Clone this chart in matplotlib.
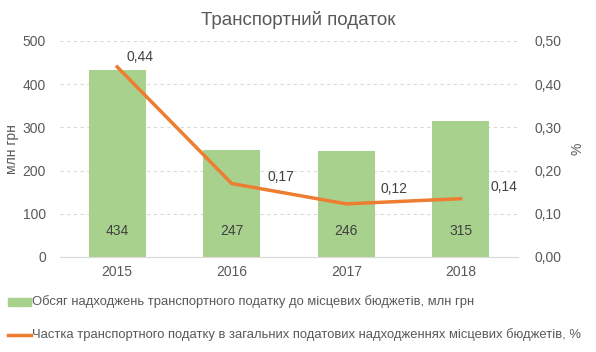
import matplotlib
matplotlib.use("Agg")
import matplotlib.pyplot as plt
import numpy as np

years = ["2015", "2016", "2017", "2018"]
volume = [434, 247, 246, 315]          # млн грн
share = [0.44, 0.17, 0.123, 0.135]     # %
share_labels = ["0,44", "0,17", "0,12", "0,14"]

TXT = "#595959"
plt.rcParams["font.family"] = ["Liberation Sans", "DejaVu Sans"]

fig = plt.figure(figsize=(5.96, 3.52), dpi=100)
ax = fig.add_axes([60/596, 1-257/352, 458/596, 216/352])
ax2 = ax.twinx()

x = np.arange(len(years))
ax.bar(x, volume, width=0.5, color="#A9D18E", zorder=2)
for xi, v in zip(x, volume):
    ax.text(xi, 60, str(v), ha="center", va="center", fontsize=10, color="#404040", zorder=3)

ax.set_xlim(-0.5, 3.5)
ax.set_ylim(0, 500)
ax.set_yticks(range(0, 501, 100))
ax.yaxis.grid(True, ls=(0, (3, 3)), color="#d9d9d9", lw=0.8)
ax.set_axisbelow(True)
ax.set_xticks(x)
ax.set_xticklabels(years)
ax.set_ylabel("млн грн", color=TXT, fontsize=10, labelpad=3)

ax2.plot(x, share, color="#ED7D31", lw=2.5, zorder=4)
ax2.set_ylim(0, 0.5)
ax2.set_yticks(np.arange(0, 0.51, 0.1))
ax2.set_yticklabels([f"{t:.2f}".replace(".", ",") for t in np.arange(0, 0.51, 0.1)])
ax2.set_ylabel("%", color=TXT, fontsize=10, labelpad=6)
offs = [(0.2, 0.023), (0.43, 0.015), (0.42, 0.034), (0.38, 0.027)]
for xi, v, lab, (dx, dy) in zip(x, share, share_labels, offs):
    ax2.text(xi + dx, v + dy, lab, ha="center", va="center", fontsize=10, color="#404040", zorder=5)

for a in (ax, ax2):
    for s in a.spines.values():
        s.set_visible(False)
    a.tick_params(length=0, colors=TXT, labelsize=10)
ax.spines["bottom"].set_visible(True)
ax.spines["bottom"].set_color("#d9d9d9")
ax.tick_params(axis="y", pad=10)
ax.tick_params(axis="x", pad=6)
ax2.tick_params(axis="y", pad=12)

fig.text(0.5, 1-20/352, "Транспортний податок", ha="center", va="center", fontsize=13.5, color=TXT)

# legend rows
fig.patches.append(plt.Rectangle((8/596, 1-306/352), 23/596, 8/352, transform=fig.transFigure,
                                 color="#A9D18E", figure=fig))
fig.text(32/596, 1-302/352, "Обсяг надходжень транспортного податку до місцевих бюджетів, млн грн",
         ha="left", va="center", fontsize=9.4, color=TXT)
fig.lines.append(plt.Line2D([8/596, 31/596], [1-335/352, 1-335/352], transform=fig.transFigure,
                            color="#ED7D31", lw=2.5))
fig.text(32/596, 1-335/352,
         "Частка транспортного податку в загальних податових надходженнях місцевих бюджетів, %",
         ha="left", va="center", fontsize=9.4, color=TXT)

fig.savefig("out.png", dpi=100)
